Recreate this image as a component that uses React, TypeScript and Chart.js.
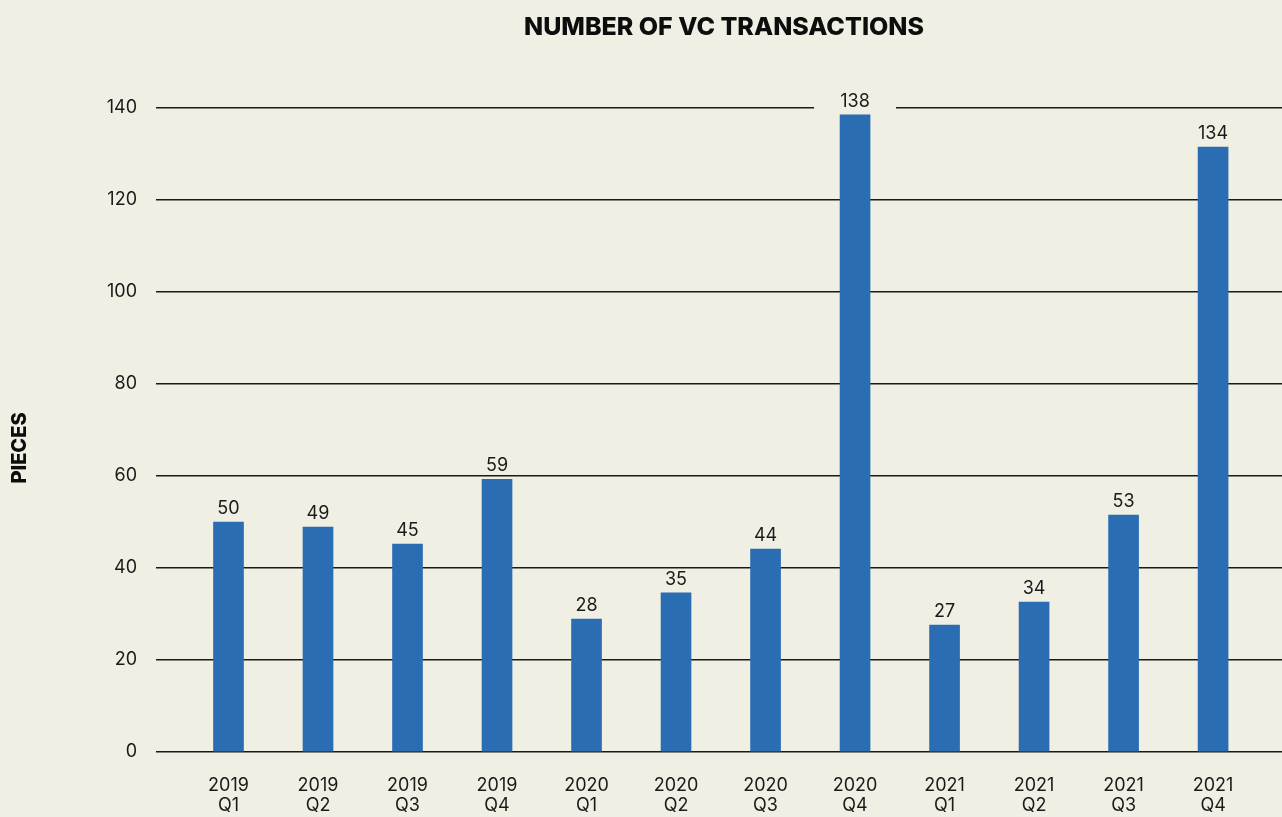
import React, { useEffect, useRef } from "react";
import { Chart, registerables } from "chart.js";

Chart.register(...registerables);

const chartTitle = "NUMBER OF VC TRANSACTIONS";
const yAxisTitle = "PIECES";
const categories = [
  "2019 Q1", "2019 Q2", "2019 Q3", "2019 Q4",
  "2020 Q1", "2020 Q2", "2020 Q3", "2020 Q4",
  "2021 Q1", "2021 Q2", "2021 Q3", "2021 Q4",
];
// bar heights as drawn in the picture
const barValues = [50, 48.9, 45.2, 59.3, 28.9, 34.6, 44.1, 138.5, 27.6, 32.6, 51.5, 131.5];
// value labels printed above the bars
const valueLabels = ["50", "49", "45", "59", "28", "35", "44", "138", "27", "34", "53", "134"];
const yTicks = [0, 20, 40, 60, 80, 100, 120, 140];

const BG = "#f0efe4";
const BAR = "#2a6db3";
const INK = "#1a1a1a";
const FONT = "Inter, 'Noto Sans', sans-serif";

export default function App() {
  const ref = useRef<HTMLCanvasElement | null>(null);

  useEffect(() => {
    if (!ref.current) return;

    const textPlugin = {
      id: "staticText",
      afterDraw(chart: any) {
        const { ctx, chartArea } = chart;
        ctx.save();
        ctx.fillStyle = "#0d0d0d";
        ctx.font = `800 25px ${FONT}`;
        ctx.textAlign = "center";
        ctx.textBaseline = "middle";
        ctx.fillText(chartTitle, (chartArea.left + chartArea.right) / 2 + 5, 27);
        ctx.translate(20, 448);
        ctx.rotate(-Math.PI / 2);
        ctx.font = `800 20px ${FONT}`;
        ctx.fillText(yAxisTitle, 0, 0);
        ctx.restore();
      },
    };

    const labelPlugin = {
      id: "valueLabels",
      afterDatasetsDraw(chart: any) {
        const { ctx } = chart;
        const meta = chart.getDatasetMeta(0);
        const yScale = chart.scales.y;
        ctx.save();
        ctx.font = `400 18px ${FONT}`;
        ctx.textAlign = "center";
        ctx.textBaseline = "alphabetic";
        meta.data.forEach((bar: any, i: number) => {
          const base = bar.y - 8;
          const top = base - 14;
          const bottom = base + 2;
          const hit = yTicks.some((t) => {
            const py = yScale.getPixelForValue(t);
            return py >= top && py <= bottom + 1;
          });
          if (hit) {
            ctx.fillStyle = BG;
            ctx.fillRect(bar.x - 41, top, 82, bottom - top + 2);
          }
          ctx.fillStyle = INK;
          ctx.fillText(valueLabels[i], bar.x, base);
        });
        ctx.restore();
      },
    };

    const chart = new Chart(ref.current, {
      type: "bar",
      data: {
        datasets: [
          {
            data: barValues.map((v, i) => ({ x: i, y: v })),
            backgroundColor: BAR,
            borderWidth: 0,
            barThickness: 30,
          },
        ],
      },
      options: {
        animation: false,
        responsive: true,
        maintainAspectRatio: false,
        layout: { padding: { top: 108, left: 0, right: 0, bottom: 0 } },
        plugins: {
          legend: { display: false },
          title: { display: false },
          tooltip: { enabled: false },
        },
        scales: {
          x: {
            type: "linear",
            offset: false,
            min: -0.81,
            max: 11.77,
            grid: { display: false, drawTicks: false, offset: false },
            border: { display: false },
            afterBuildTicks: (scale: any) => {
              scale.ticks = categories.map((_, i) => ({ value: i }));
            },
            afterFit: (scale: any) => {
              scale.height = 65;
            },
            ticks: {
              autoSkip: false,
              maxRotation: 0,
              minRotation: 0,
              padding: 24,
              color: INK,
              font: { family: FONT, size: 18, lineHeight: 1.1 },
              callback: (value: any) => {
                const c = categories[value as number];
                return c ? c.split(" ") : "";
              },
            },
          },
          y: {
            min: 0,
            max: 140,
            afterBuildTicks: (scale: any) => {
              scale.ticks = yTicks.map((v) => ({ value: v }));
            },
            afterFit: (scale: any) => {
              scale.width = 156;
            },
            grid: { color: INK, lineWidth: 1.5, drawTicks: false },
            border: { display: false },
            ticks: {
              padding: 19,
              color: INK,
              font: { family: FONT, size: 18 },
            },
          },
        },
      },
      plugins: [labelPlugin, textPlugin],
    } as any);

    return () => chart.destroy();
  }, []);

  return (
    <div
      style={{
        position: "absolute",
        left: 0,
        top: 0,
        width: 1282,
        height: 817,
        background: BG,
      }}
    >
      <canvas ref={ref} />
    </div>
  );
}
